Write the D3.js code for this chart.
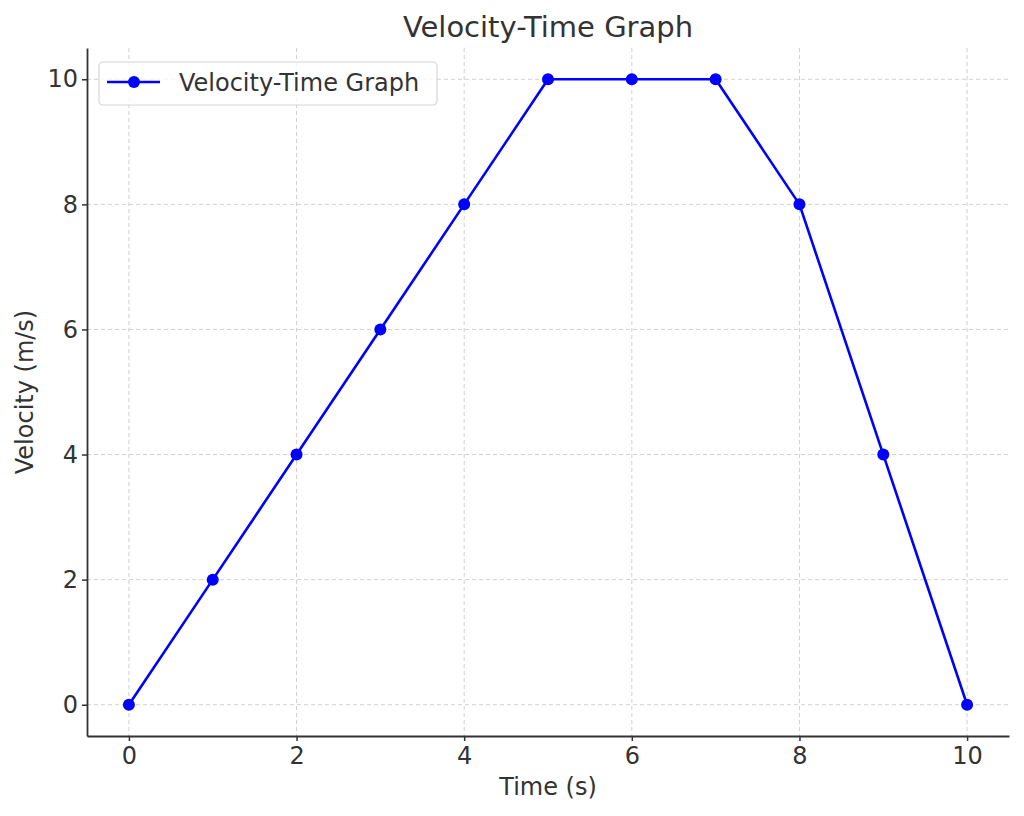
<!DOCTYPE html>
<html><head><meta charset="utf-8">
<script src="https://cdn.jsdelivr.net/npm/d3@7"></script>
<style>body{margin:0;background:#fff;font-family:"DejaVu Sans",sans-serif;}</style>
</head><body><svg id="c" width="1024" height="816"></svg>
<script>
const times = [0,1,2,3,4,5,6,7,8,9,10];
const velocities = [0,2,4,6,8,10,10,10,8,4,0];
const xTicks = [0,2,4,6,8,10];
const yTicks = [0,2,4,6,8,10];
const seriesName = "Velocity-Time Graph";

const svg = d3.select("#c");
const L=87, R=1009, T=48, B=736;
const x = d3.scaleLinear().domain([-0.5,10.5]).range([L,R]);
const y = d3.scaleLinear().domain([-0.5,10.5]).range([B,T]);
const txt="#333333";

// grid
const g = svg.append("g");
g.selectAll(".gx").data(xTicks).enter().append("line")
 .attr("x1",d=>x(d)).attr("x2",d=>x(d)).attr("y1",T).attr("y2",B)
 .attr("stroke","#d0d0d0").attr("stroke-width",1).attr("stroke-dasharray","4,3");
g.selectAll(".gy").data(yTicks).enter().append("line")
 .attr("y1",d=>y(d)).attr("y2",d=>y(d)).attr("x1",L).attr("x2",R)
 .attr("stroke","#d0d0d0").attr("stroke-width",1).attr("stroke-dasharray","4,3");

// axes
const xa = svg.append("g").attr("transform",`translate(0,${B})`)
 .call(d3.axisBottom(x).tickValues(xTicks).tickSize(5).tickPadding(6).tickSizeOuter(0));
const ya = svg.append("g").attr("transform",`translate(${L},0)`)
 .call(d3.axisLeft(y).tickValues(yTicks).tickSize(5).tickPadding(4).tickSizeOuter(0));
[xa,ya].forEach(a=>{
  a.attr("font-size",null).attr("font-family",null);
  a.select(".domain").attr("stroke",txt).attr("stroke-width",1.8);
  a.selectAll(".tick line").attr("stroke",txt).attr("stroke-width",1.5);
  a.selectAll(".tick text").attr("fill",txt).style("font-size","24px").style("font-family","DejaVu Sans");
});

// line
const data = times.map((t,i)=>({t,v:velocities[i]}));
svg.append("path").datum(data)
 .attr("d",d3.line().x(d=>x(d.t)).y(d=>y(d.v)))
 .attr("fill","none").attr("stroke","#0000ff").attr("stroke-width",2.6).attr("stroke-linejoin","round");
svg.selectAll(".pt").data(data).enter().append("circle")
 .attr("cx",d=>x(d.t)).attr("cy",d=>y(d.v)).attr("r",6).attr("fill","#0000ff");

// labels
svg.append("text").attr("x",(L+R)/2).attr("y",37).attr("text-anchor","middle")
 .style("font-size","29px").attr("fill",txt).text("Velocity-Time Graph");
svg.append("text").attr("x",(L+R)/2).attr("y",795).attr("text-anchor","middle")
 .style("font-size","24px").attr("fill",txt).text("Time (s)");
svg.append("text").attr("transform",`translate(33,${(T+B)/2}) rotate(-90)`).attr("text-anchor","middle")
 .style("font-size","24px").attr("fill",txt).text("Velocity (m/s)");

// legend
const lg = svg.append("g");
lg.append("rect").attr("x",99).attr("y",62).attr("width",338).attr("height",43).attr("rx",4)
 .attr("fill","#fff").attr("fill-opacity",0.8).attr("stroke","#d6d6d6").attr("stroke-width",1.2);
lg.append("line").attr("x1",107).attr("x2",160).attr("y1",82).attr("y2",82)
 .attr("stroke","#0000ff").attr("stroke-width",2.6);
lg.append("circle").attr("cx",134).attr("cy",82).attr("r",6).attr("fill","#0000ff");
lg.append("text").attr("x",179).attr("y",91).style("font-size","24px").attr("fill",txt).text(seriesName);
</script></body></html>
